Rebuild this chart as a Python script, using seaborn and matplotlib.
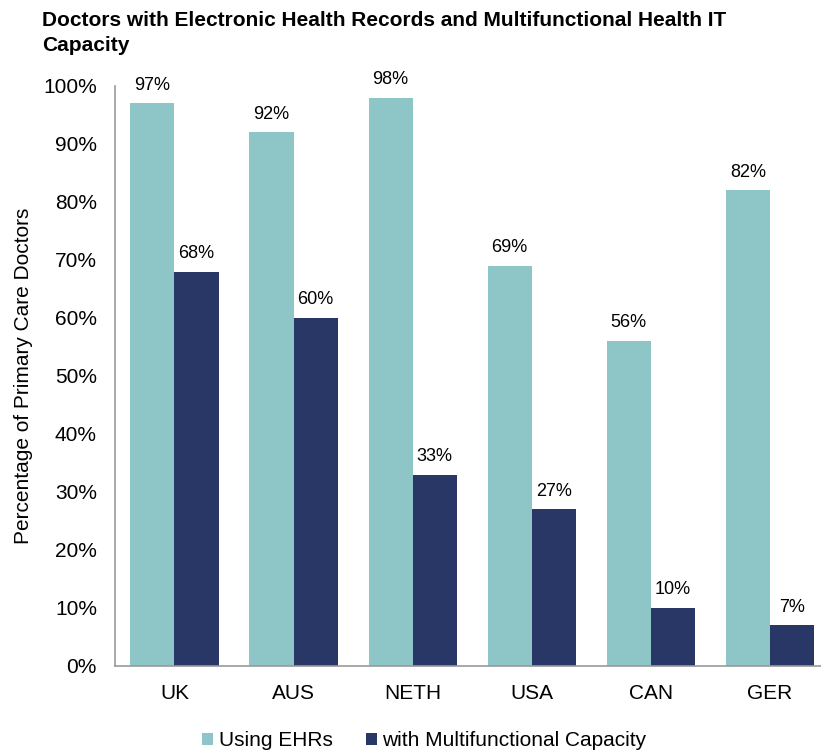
import matplotlib
matplotlib.use("Agg")
import matplotlib.pyplot as plt
import seaborn as sns
import pandas as pd

countries = ["UK", "AUS", "NETH", "USA", "CAN", "GER"]
using_ehrs = [97, 92, 98, 69, 56, 82]
multifunctional = [68, 60, 33, 27, 10, 7]
series_names = ["Using EHRs", "with Multifunctional Capacity"]
y_ticks = [0, 10, 20, 30, 40, 50, 60, 70, 80, 90, 100]

df = pd.DataFrame({
    "Country": countries * 2,
    "Series": [series_names[0]] * len(countries) + [series_names[1]] * len(countries),
    "Value": using_ehrs + multifunctional,
})

sns.set_theme(style="white")
plt.rcParams["font.family"] = ["Liberation Sans", "DejaVu Sans"]
plt.rcParams["text.color"] = "black"
plt.rcParams["axes.labelcolor"] = "black"
plt.rcParams["xtick.color"] = "black"
plt.rcParams["ytick.color"] = "black"

fig = plt.figure(figsize=(8.21, 7.52), dpi=100)
ax = fig.add_axes([0.140, 0.1144, 0.86, 0.7713])

palette = {series_names[0]: "#8EC6C7", series_names[1]: "#283766"}
sns.barplot(data=df, x="Country", y="Value", hue="Series", palette=palette,
            width=0.74, saturation=1, ax=ax, order=countries, hue_order=series_names,
            linewidth=0)

for cont in ax.containers:
    ax.bar_label(cont, labels=[f"{v:.0f}%" for v in cont.datavalues],
                 padding=7, fontsize=13, color="black")

ax.set_ylim(0, 100)
ax.set_xlim(-0.5, 5.43)
ax.set_yticks(y_ticks)
ax.set_yticklabels([f"{t}%" for t in y_ticks], fontsize=15)
ax.tick_params(axis="x", labelsize=15, pad=13, length=0)
ax.tick_params(axis="y", length=0, pad=13)
ax.set_xlabel("")
ax.set_ylabel("Percentage of Primary Care Doctors", fontsize=15, labelpad=7)

for s in ["top", "right"]:
    ax.spines[s].set_visible(False)
for s in ["left", "bottom"]:
    ax.spines[s].set_color("#999999")
    ax.spines[s].set_linewidth(1.2)

ax.legend(loc="lower center", bbox_to_anchor=(0.438, -0.178), ncol=2, frameon=False,
          fontsize=15, handlelength=0.55, handleheight=0.55, handletextpad=0.25,
          columnspacing=1.6)

fig.text(0.051, 0.985, "Doctors with Electronic Health Records and Multifunctional Health IT\nCapacity",
         fontsize=15, fontweight="bold", ha="left", va="top", linespacing=1.4)

fig.savefig("out.png", dpi=100)
